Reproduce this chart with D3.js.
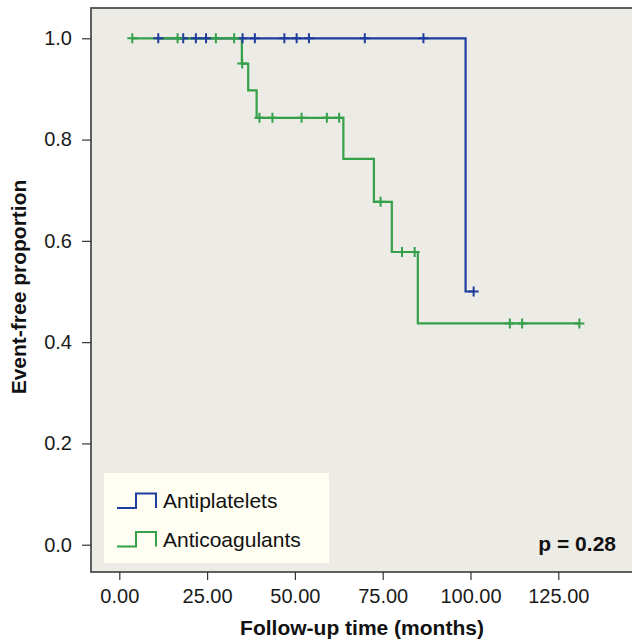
<!DOCTYPE html>
<html>
<head>
<meta charset="utf-8">
<script src="https://cdn.jsdelivr.net/npm/d3@7"></script>
<style>
  body { margin: 0; background: #fff; }
  svg { display: block; font-family: "Liberation Sans", Arial, Helvetica, sans-serif; }
  .tick text { font-size: 20px; fill: #1a1a1a; }
  .tick line { stroke: #333; stroke-width: 1.2; }
  .title { font-weight: bold; font-size: 21px; fill: #111; }
</style>
</head>
<body>
<svg id="chart" width="632" height="640"></svg>
<script>
// group names (legend order)
const groups = ['Antiplatelets', 'Anticoagulants']
const colors = ['#1f3d9c', '#34a049']

// Antiplatelets: event times and survival level after each event, censored times
const antiplateletEventTimes = [98.6]
const antiplateletEventLevels = [0.5]
const antiplateletCensored = [11.1, 18.2, 21.8, 24.7, 35.1, 38.6, 47.0, 50.5, 54.0, 69.9, 86.6, 100.9]

// Anticoagulants
const anticoagEventTimes = [34.9, 36.7, 39.1, 63.8, 72.5, 77.6, 85.0]
const anticoagEventLevels = [0.95, 0.897, 0.843, 0.762, 0.677, 0.578, 0.437]
const anticoagCensored = [3.7, 16.6, 27.5, 32.7, 35.0, 39.9, 43.6, 51.9, 59.1, 62.6, 74.4, 80.5, 84.1, 111.2, 114.7, 131.0]

const xTicks = [0, 25, 50, 75, 100, 125]
const yTicks = [0, 0.2, 0.4, 0.6, 0.8, 1.0]
const pValue = 'p = 0.28'

const svg = d3.select('#chart')
const frame = { left: 91, top: 8, right: 633, bottom: 572 }

const x = d3.scaleLinear().domain([0, 125]).range([119.3, 558.3])
const y = d3.scaleLinear().domain([0, 1]).range([544.7, 38.3])

// plot background + frame
svg.append('rect')
  .attr('x', frame.left).attr('y', frame.top)
  .attr('width', frame.right - frame.left).attr('height', frame.bottom - frame.top)
  .attr('fill', '#edebe6')
  .attr('stroke', '#505050')
  .attr('stroke-width', 1.8)

// axes
const xAxis = svg.append('g')
  .attr('transform', `translate(0,${frame.bottom})`)
  .call(d3.axisBottom(x).tickValues(xTicks).tickFormat(d3.format('.2f')).tickSize(8).tickPadding(9))
xAxis.select('.domain').remove()

const yAxis = svg.append('g')
  .attr('transform', `translate(${frame.left},0)`)
  .call(d3.axisLeft(y).tickValues(yTicks).tickFormat(d3.format('.1f')).tickSize(9).tickPadding(10))
yAxis.select('.domain').remove()

svg.append('text')
  .attr('class', 'title')
  .attr('x', 362).attr('y', 635)
  .attr('text-anchor', 'middle')
  .text('Follow-up time (months)')

svg.append('text')
  .attr('class', 'title')
  .attr('transform', 'translate(26,287) rotate(-90)')
  .attr('text-anchor', 'middle')
  .text('Event-free proportion')

/**
 * builds the step points and censor marks of one KM curve
 */
function curve (eventTimes, eventLevels, censored) {
  const start = Math.min(d3.min(censored), d3.min(eventTimes))
  const end = Math.max(d3.max(censored), d3.max(eventTimes))
  const pts = [[start, 1]]
  eventTimes.forEach((t, i) => pts.push([t, eventLevels[i]]))
  pts.push([end, eventLevels[eventLevels.length - 1]])
  const levelAt = t => {
    let s = 1
    eventTimes.forEach((e, i) => { if (e <= t) s = eventLevels[i] })
    return s
  }
  const marks = censored.map(t => [t, levelAt(t)])
  return { pts, marks }
}

const curves = [
  curve(antiplateletEventTimes, antiplateletEventLevels, antiplateletCensored),
  curve(anticoagEventTimes, anticoagEventLevels, anticoagCensored),
]

const line = d3.line().x(d => x(d[0])).y(d => y(d[1])).curve(d3.curveStepAfter)

curves.forEach((c, i) => {
  svg.append('path')
    .attr('d', line(c.pts))
    .attr('fill', 'none')
    .attr('stroke', colors[i])
    .attr('stroke-width', 2.2)
})

const arm = 5
curves.forEach((c, i) => {
  const g = svg.append('g').attr('stroke', colors[i]).attr('stroke-width', 2)
  g.selectAll('path.cross')
    .data(c.marks)
    .join('path')
    .attr('class', 'cross')
    .attr('d', d => {
      const cx = x(d[0]), cy = y(d[1])
      return `M${cx - arm},${cy}H${cx + arm}M${cx},${cy - arm}V${cy + arm}`
    })
})

// legend
const legend = svg.append('g')
legend.append('rect')
  .attr('x', 104).attr('y', 473).attr('width', 225).attr('height', 90)
  .attr('fill', '#fefef2')
groups.forEach((name, i) => {
  const base = 508 + i * 38.5
  legend.append('path')
    .attr('d', `M117,${base}H136V${base - 14.5}H156V${base}`)
    .attr('fill', 'none')
    .attr('stroke', colors[i])
    .attr('stroke-width', 2)
  legend.append('text')
    .attr('x', 163).attr('y', base)
    .attr('font-size', 21)
    .attr('fill', '#111')
    .text(name)
})

svg.append('text')
  .attr('class', 'title')
  .attr('x', 616).attr('y', 551)
  .attr('text-anchor', 'end')
  .text(pValue)
</script>
</body>
</html>
